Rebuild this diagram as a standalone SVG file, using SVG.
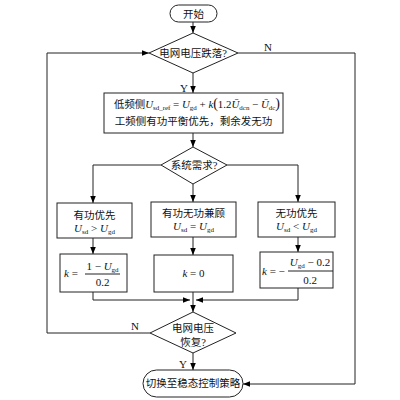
<svg xmlns="http://www.w3.org/2000/svg" width="400" height="400" viewBox="0 0 400 400">
<defs>
<marker id="ah" viewBox="0 0 10 10" refX="10" refY="5" markerWidth="7" markerHeight="7" markerUnits="userSpaceOnUse" orient="auto">
<path d="M0,1 L10,5 L0,9 Z" fill="#000"/>
</marker>
<style>
.s{fill:#fff;stroke:#222;stroke-width:1}
.c{fill:none;stroke:#222;stroke-width:1;marker-end:url(#ah)}
.l{fill:none;stroke:#222;stroke-width:1}
.t{font-family:"Liberation Serif","Noto Sans CJK SC",serif;font-size:10.5px;fill:#111}
.m{font-family:"Liberation Serif",serif;font-style:italic;font-size:11px;fill:#111}
.n{font-family:"Liberation Serif",serif;font-style:normal;font-size:11px;fill:#111}
.sb{font-family:"Liberation Serif",serif;font-style:normal;font-size:7px}
</style>
</defs>
<rect width="400" height="400" fill="#fff"/>
<g id="connectors">
<path class="c" d="M193,22 V33"/>
<path class="c" d="M193,73 V93"/>
<path class="c" d="M193,133 V147"/>
<path class="c" d="M161,165 H93 V203"/>
<path class="c" d="M193,184 V202"/>
<path class="c" d="M227,165 H298 V202"/>
<path class="c" d="M93,238 V254"/>
<path class="c" d="M193,237 V255"/>
<path class="c" d="M298,237 V252"/>
<path class="c" d="M93,292 V300 H190"/>
<path class="c" d="M298,288 V300 H196"/>
<path class="c" d="M193,292 V312"/>
<path class="c" d="M193,353 V370"/>
<path class="c" d="M150,333 H47 V53 H149"/>
<path class="c" d="M238,53 H355 V384 H243"/>
<text class="n" x="268" y="51" text-anchor="middle">N</text>
<text class="n" x="184" y="92" text-anchor="middle">Y</text>
<text class="n" x="135" y="330" text-anchor="middle">N</text>
<text class="n" x="183" y="368" text-anchor="middle">Y</text>
</g>
<g id="start">
<rect class="s" x="170" y="5" width="47" height="17" rx="8.5"/>
<text class="t" x="193.5" y="17.5" text-anchor="middle">开始</text>
</g>
<g id="d1">
<polygon class="s" points="149,53 193,33 238,53 193,73"/>
<text class="t" x="193" y="57" text-anchor="middle">电网电压跌落?</text>
</g>
<g id="box2">
<rect class="s" x="104" y="93" width="179" height="40"/>
<text class="t" x="114" y="108" textLength="166" lengthAdjust="spacingAndGlyphs">低频侧<tspan class="m">U</tspan><tspan class="sb" dy="2">sd_ref</tspan><tspan class="n" dy="-2"> = </tspan><tspan class="m">U</tspan><tspan class="sb" dy="2">gd</tspan><tspan class="n" dy="-2"> + </tspan><tspan class="m">k</tspan><tspan class="n" style="font-size:14px">(</tspan><tspan class="n">1.2</tspan><tspan class="m">Ū</tspan><tspan class="sb" dy="2">dcn</tspan><tspan class="n" dy="-2"> − </tspan><tspan class="m">Ū</tspan><tspan class="sb" dy="2">dc</tspan><tspan class="n" dy="-2" style="font-size:14px">)</tspan></text>
<text class="t" x="193.5" y="125" text-anchor="middle">工频侧有功平衡优先，剩余发无功</text>
</g>
<g id="d2">
<polygon class="s" points="161,165 193,147 227,165 193,184"/>
<text class="t" x="194" y="169" text-anchor="middle">系统需求?</text>
</g>
<g id="b_left">
<rect class="s" x="57" y="203" width="75" height="35"/>
<text class="t" x="94.5" y="219" text-anchor="middle">有功优先</text>
<text class="m" x="94.5" y="232" text-anchor="middle">U<tspan class="sb" dy="2">sd</tspan><tspan class="n" dy="-2"> &gt; </tspan>U<tspan class="sb" dy="2">gd</tspan></text>
</g>
<g id="b_mid">
<rect class="s" x="151" y="202" width="85" height="35"/>
<text class="t" x="193.5" y="217" text-anchor="middle">有功无功兼顾</text>
<text class="m" x="193.5" y="230" text-anchor="middle">U<tspan class="sb" dy="2">sd</tspan><tspan class="n" dy="-2"> = </tspan>U<tspan class="sb" dy="2">gd</tspan></text>
</g>
<g id="b_right">
<rect class="s" x="258" y="202" width="77" height="35"/>
<text class="t" x="296.5" y="217" text-anchor="middle">无功优先</text>
<text class="m" x="296.5" y="230" text-anchor="middle">U<tspan class="sb" dy="2">sd</tspan><tspan class="n" dy="-2"> &lt; </tspan>U<tspan class="sb" dy="2">gd</tspan></text>
</g>
<g id="k_left">
<rect class="s" x="60" y="254" width="67" height="38"/>
<text class="m" x="64" y="277">k<tspan class="n"> =</tspan></text>
<text class="n" x="102.5" y="270" text-anchor="middle">1 − <tspan class="m">U</tspan><tspan class="sb" dy="2">gd</tspan></text>
<line class="l" x1="85" y1="274" x2="120" y2="274"/>
<text class="n" x="102.5" y="286" text-anchor="middle">0.2</text>
</g>
<g id="k_mid">
<rect class="s" x="154" y="255" width="79" height="37"/>
<text class="m" x="193.5" y="277" text-anchor="middle">k<tspan class="n"> = 0</tspan></text>
</g>
<g id="k_right">
<rect class="s" x="260" y="252" width="73" height="36"/>
<text class="m" x="262" y="275">k<tspan class="n"> = −</tspan></text>
<text class="m" x="310" y="266" text-anchor="middle">U<tspan class="sb" dy="2">gd</tspan><tspan class="n" dy="-2"> − 0.2</tspan></text>
<line class="l" x1="288" y1="271" x2="333" y2="271"/>
<text class="n" x="310" y="284" text-anchor="middle">0.2</text>
</g>
<g id="d3">
<polygon class="s" points="150,333 193,312 236,333 193,353"/>
<text class="t" x="193" y="332" text-anchor="middle">电网电压</text>
<text class="t" x="193" y="346" text-anchor="middle">恢复?</text>
</g>
<g id="end">
<rect class="s" x="143" y="370" width="100" height="27" rx="13.5"/>
<text class="t" x="193" y="387" text-anchor="middle">切换至稳态控制策略</text>
</g>
</svg>
